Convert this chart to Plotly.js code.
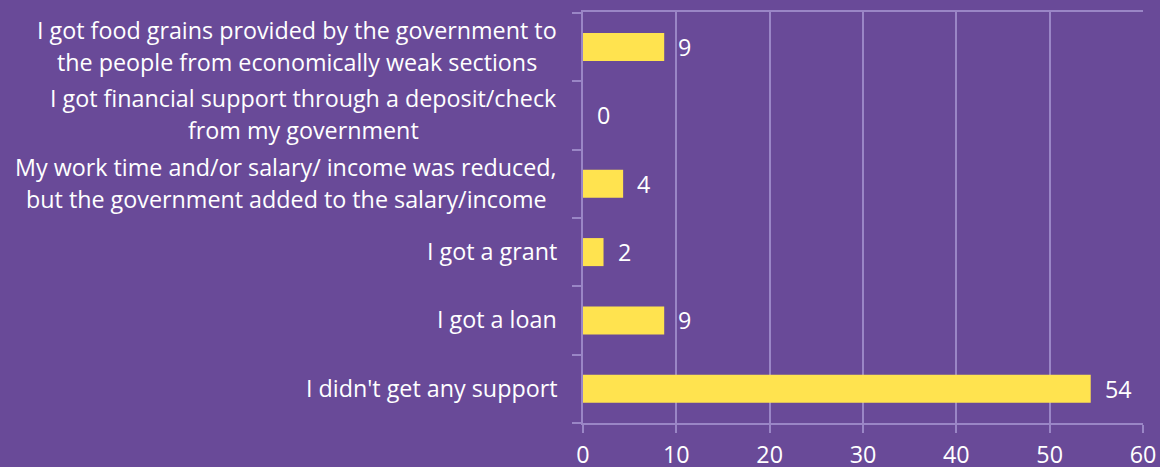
<!DOCTYPE html>
<html>
<head>
<meta charset="utf-8">
<script src="https://cdn.plot.ly/plotly-3.0.1.min.js"></script>
<style>html,body{margin:0;padding:0;background:#694a98;}#chart{width:1160px;height:467px;}</style>
</head>
<body>
<div id="chart"></div>
<script>
const categories = [
  "I got food grains provided by the government to<br>the people from economically weak sections",
  "I got financial support through a deposit/check<br>from my government",
  "My work time and/or salary/ income was reduced,<br>but the government added to the salary/income",
  "I got a grant",
  "I got a loan",
  "I didn't get any support"
];
const values = [8.7, 0, 4.3, 2.2, 8.7, 54.4];
const valueLabels = ["9", "0", "4", "2", "9", "54"];

const FONT = '"Open Sans", sans-serif';
const FS = 23.3;
const bg = '#694a98';
const gridc = '#9a86c6';

const cats = categories.slice().reverse();
const vals = values.slice().reverse();
const labs = valueLabels.slice().reverse();

const ctx = document.createElement('canvas').getContext('2d');
ctx.font = FS + 'px "Open Sans"';

const annotations = [];
cats.forEach((c, i) => {
  const lines = c.split('<br>');
  const widths = lines.map(l => ctx.measureText(l).width);
  const bw = Math.max(...widths);
  const n = lines.length;
  lines.forEach((l, j) => {
    annotations.push({
      xref: 'paper', yref: 'y', x: 0, y: c,
      xanchor: 'center', yanchor: 'middle',
      xshift: -(26 + bw / 2),
      yshift: (n - 1) * 16 - j * 32 + 1,
      text: l, showarrow: false,
      font: {family: FONT, size: FS, color: '#ffffff'}
    });
  });
  annotations.push({
    xref: 'x', yref: 'y', x: vals[i], y: c,
    xanchor: 'left', yanchor: 'middle', xshift: 12,
    text: labs[i], showarrow: false,
    font: {family: FONT, size: FS, color: '#ffffff'}
  });
});

const data = [{
  type: 'bar', orientation: 'h',
  x: vals, y: cats,
  marker: {color: '#ffe34f'},
  hoverinfo: 'none'
}];

const layout = {
  width: 1160, height: 467,
  margin: {l: 583, r: 17, t: 12, b: 44},
  paper_bgcolor: bg, plot_bgcolor: bg,
  bargap: 0.59,
  showlegend: false,
  font: {family: FONT, size: FS, color: '#ffffff'},
  xaxis: {
    range: [0, 60], dtick: 10, tick0: 0,
    showgrid: true, gridcolor: gridc, gridwidth: 2,
    showline: true, linecolor: gridc, linewidth: 2, mirror: true,
    ticks: 'outside', ticklen: 8, tickcolor: gridc, tickwidth: 2,
    ticklabelstandoff: 2,
    zeroline: false,
    tickfont: {family: FONT, size: FS, color: '#ffffff'},
    fixedrange: true
  },
  yaxis: {
    type: 'category', categoryarray: cats,
    tickson: 'boundaries',
    showgrid: false,
    showline: true, linecolor: gridc, linewidth: 2,
    ticks: 'outside', ticklen: 9, tickcolor: gridc, tickwidth: 2,
    showticklabels: false,
    fixedrange: true
  },
  annotations: annotations
};

Plotly.newPlot('chart', data, layout, {displayModeBar: false, staticPlot: true});
</script>
</body>
</html>
